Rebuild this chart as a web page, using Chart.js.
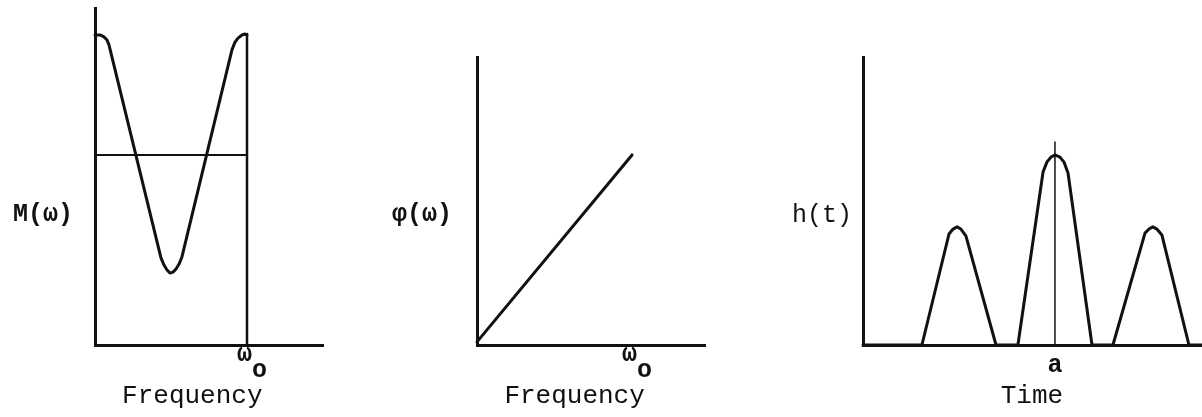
<!DOCTYPE html>
<html>
<head>
<meta charset="utf-8">
<script src="https://cdn.jsdelivr.net/npm/chart.js@4.4.1/dist/chart.umd.min.js"></script>
<style>
  body { margin: 0; background: #fff; }
  .panel { position: absolute; top: 0; height: 417px; }
  #p1 { left: 0; width: 335px; }
  #p2 { left: 335px; width: 385px; }
  #p3 { left: 720px; width: 482px; }
</style>
</head>
<body>
<div class="panel" id="p1"><canvas id="magChart"></canvas></div>
<div class="panel" id="p2"><canvas id="phaseChart"></canvas></div>
<div class="panel" id="p3"><canvas id="pulseChart"></canvas></div>
<script>
// magnitude M(w), frequency in units of w0
const magFreq = [0, 0.033, 0.059, 0.079, 0.092, 0.434, 0.454, 0.474, 0.493,
  0.513, 0.533, 0.553, 0.572, 0.901, 0.921, 0.941, 0.967, 0.987, 1.0];
const magValues = [1.0, 1.0, 0.994, 0.984, 0.968, 0.281, 0.258, 0.242, 0.232,
  0.235, 0.245, 0.261, 0.284, 0.952, 0.977, 0.99, 1.0, 1.003, 1.0];
const magLevel = 0.613;
const cutoffFreq = 1;

// linear phase
const phaseFreq = [0, 0.969];
const phaseValues = [0.01, 0.613];

// impulse response h(t), time in units of a
const timeValues = [0, 0.307, 0.448, 0.469, 0.49, 0.51, 0.536, 0.693,
  0.807, 0.938, 0.958, 0.979, 1.0, 1.026, 1.047, 1.068, 1.193,
  1.302, 1.469, 1.49, 1.51, 1.531, 1.557, 1.698, 1.77];
const pulseValues = [0, 0, 0.358, 0.374, 0.381, 0.374, 0.352, 0,
  0, 0.558, 0.59, 0.606, 0.613, 0.606, 0.59, 0.555, 0,
  0, 0.361, 0.374, 0.381, 0.374, 0.355, 0, 0];
const delayTime = 1;
const delayTop = 0.655;

// tick labels
const freqTick = ['ω ', ' o'];
const timeTick = ['a'];
const yLabels = ['M(ω)', 'φ(ω)', 'h(t)'];
const xCaptions = ['Frequency', 'Frequency', 'Time'];

const INK = '#111';
const MONO = "'Liberation Mono', 'DejaVu Sans Mono', monospace";

function pts(xs, ys) {
  return xs.map((x, i) => ({ x: x, y: ys[i] }));
}

// draws the axis caption under the x axis, centred on a data value
const captionPlugin = {
  id: 'caption',
  afterDraw(chart, args, opts) {
    const ctx = chart.ctx;
    const x = chart.scales.x.getPixelForValue(opts.at);
    ctx.save();
    ctx.font = '26px ' + MONO;
    ctx.fillStyle = INK;
    ctx.textAlign = 'center';
    ctx.textBaseline = 'alphabetic';
    ctx.fillText(opts.text, x, chart.scales.x.top + 58);
    ctx.restore();
  }
};

function line(data, width) {
  return {
    data: data,
    showLine: true,
    borderColor: INK,
    borderWidth: width,
    pointRadius: 0,
    borderJoinStyle: 'round',
    borderCapStyle: 'round',
    tension: 0,
    clip: false
  };
}

// fixed axis sizes so the plot areas land where they should
function fixSize(s, size) {
  if (s.isHorizontal()) s.height = size; else s.width = size;
  s.paddingTop = s.paddingBottom = s.paddingLeft = s.paddingRight = 0;
}

function panelOptions(p) {
  return {
    responsive: true,
    maintainAspectRatio: false,
    animation: false,
    layout: { autoPadding: false, padding: { top: p.top, right: p.right, left: 0, bottom: 0 } },
    plugins: {
      legend: { display: false },
      tooltip: { enabled: false },
      caption: { text: p.caption, at: p.captionAt }
    },
    scales: {
      x: {
        type: 'linear',
        min: 0,
        max: p.xMax,
        grid: { display: false, drawTicks: false },
        border: { display: true, color: INK, width: 3 },
        afterFit: s => fixSize(s, 72),
        afterBuildTicks: s => { s.ticks = [{ value: p.tickAt }]; },
        ticks: {
          color: INK,
          padding: p.tickPad,
          labelOffset: p.labelOffset,
          maxRotation: 0,
          autoSkip: false,
          font: { family: MONO, size: 25, lineHeight: '16px', weight: 'bold' },
          callback: () => p.tickLabel
        }
      },
      y: {
        type: 'linear',
        min: 0,
        max: p.yMax,
        grid: { display: false, drawTicks: false },
        border: { display: true, color: INK, width: 3 },
        afterFit: s => fixSize(s, p.yWidth),
        afterBuildTicks: s => { s.ticks = [{ value: 0.419 }]; },
        ticks: {
          color: INK,
          padding: p.yPad,
          font: { family: MONO, size: 25, weight: p.yWeight },
          callback: () => p.yLabel
        }
      }
    }
  };
}

new Chart(document.getElementById('magChart'), {
  type: 'scatter',
  data: {
    datasets: [
      line(pts(magFreq, magValues), 3),
      line([{ x: 0, y: magLevel }, { x: cutoffFreq, y: magLevel }], 2),
      line([{ x: cutoffFreq, y: 0 }, { x: cutoffFreq, y: 1.003 }], 2.5)
    ]
  },
  options: panelOptions({
    top: 8, right: 12, xMax: 1.5, yMax: 1.087, yWidth: 95, yPad: 22, yWeight: 'bold',
    tickAt: cutoffFreq, tickLabel: freqTick, tickPad: 2, labelOffset: 5,
    yLabel: yLabels[0], caption: xCaptions[0], captionAt: 0.64
  }),
  plugins: [captionPlugin]
});

new Chart(document.getElementById('phaseChart'), {
  type: 'scatter',
  data: {
    datasets: [line(pts(phaseFreq, phaseValues), 3)]
  },
  options: panelOptions({
    top: 57, right: 15, xMax: 1.425, yMax: 0.929, yWidth: 142, yPad: 25, yWeight: 'bold',
    tickAt: cutoffFreq, tickLabel: freqTick, tickPad: 2, labelOffset: 0,
    yLabel: yLabels[1], caption: xCaptions[1], captionAt: 0.61
  }),
  plugins: [captionPlugin]
});

new Chart(document.getElementById('pulseChart'), {
  type: 'scatter',
  data: {
    datasets: [
      line(pts(timeValues, pulseValues), 3),
      line([{ x: delayTime, y: 0 }, { x: delayTime, y: delayTop }], 1.5)
    ]
  },
  options: panelOptions({
    top: 57, right: 0, xMax: 1.766, yMax: 0.929, yWidth: 143, yPad: 11, yWeight: 'normal',
    tickAt: delayTime, tickLabel: timeTick, tickPad: 13, labelOffset: 0,
    yLabel: yLabels[2], caption: xCaptions[2], captionAt: 0.88
  }),
  plugins: [captionPlugin]
});
</script>
</body>
</html>
